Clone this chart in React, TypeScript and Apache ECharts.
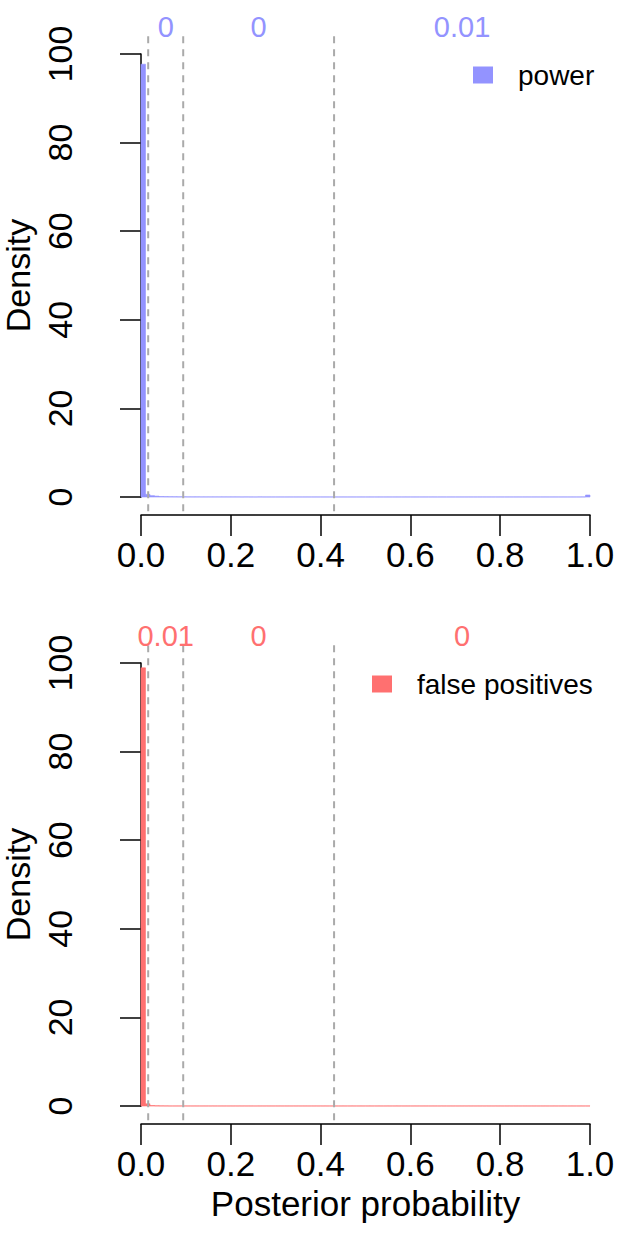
import React, { useEffect, useRef } from "react";
import * as echarts from "echarts";

// Histogram densities, 100 bins of width 0.01 over [0, 1]
const powerDensity: number[] = [
  97.7, 0.6, 0.3, 0.2, 0.1, 0.08, 0.06, 0.05, 0.04, 0.04,
  0.03, 0.03, 0.03, 0.02, 0.02, 0.02, 0.02, 0.02, 0.02, 0.02,
  0.02, 0.02, 0.01, 0.02, 0.01, 0.01, 0.02, 0.01, 0.01, 0.01,
  0.01, 0.01, 0.01, 0.01, 0.01, 0.01, 0.01, 0.01, 0.01, 0.01,
  0.01, 0.01, 0.01, 0.01, 0.01, 0.01, 0.01, 0.01, 0.01, 0.01,
  0.01, 0.01, 0.01, 0.01, 0.01, 0.01, 0.01, 0.01, 0.01, 0.01,
  0.01, 0.01, 0.01, 0.01, 0.01, 0.01, 0.01, 0.01, 0.01, 0.01,
  0.01, 0.01, 0.01, 0.01, 0.01, 0.01, 0.01, 0.01, 0.01, 0.01,
  0.01, 0.01, 0.01, 0.01, 0.01, 0.01, 0.01, 0.01, 0.01, 0.01,
  0.01, 0.01, 0.01, 0.01, 0.01, 0.01, 0.01, 0.01, 0.02, 0.45,
];
const fpDensity: number[] = [
  98.9, 0.5, 0.1, 0.05, 0.03, 0.02, 0.01, 0.01, 0.01, 0.01,
  0.01, 0.01, 0.01, 0.01, 0.01, 0.01, 0.01, 0.01, 0.01, 0.01,
  0.01, 0.01, 0.01, 0.01, 0.01, 0.01, 0.01, 0.01, 0.01, 0.01,
  0.01, 0.01, 0.01, 0.01, 0.01, 0.01, 0.01, 0.01, 0.01, 0.01,
  0.01, 0.01, 0.01, 0.01, 0.01, 0.01, 0.01, 0.01, 0.01, 0.01,
  0.01, 0.01, 0.01, 0.01, 0.01, 0.01, 0.01, 0.01, 0.01, 0.01,
  0.01, 0.01, 0.01, 0.01, 0.01, 0.01, 0.01, 0.01, 0.01, 0.01,
  0.01, 0.01, 0.01, 0.01, 0.01, 0.01, 0.01, 0.01, 0.01, 0.01,
  0.01, 0.01, 0.01, 0.01, 0.01, 0.01, 0.01, 0.01, 0.01, 0.01,
  0.01, 0.01, 0.01, 0.01, 0.01, 0.01, 0.01, 0.01, 0.01, 0.01,
];
const thresholds: number[] = [0.016, 0.094, 0.43];
const powerLabels: string[] = ["0", "0", "0.01"];
const fpLabels: string[] = ["0.01", "0", "0"];
const seriesNames: string[] = ["power", "false positives"];
const xTicks = { min: 0, max: 1, interval: 0.2 };
const yTicks = { min: 0, max: 100, interval: 20 };

const BLUE = "#9393FF";
const RED = "#FF7070";
const FONT = "Liberation Sans, Arial, Helvetica, sans-serif";

function toBins(dens: number[]) {
  const n = dens.length;
  return dens.map((d, i) => [i / n, (i + 1) / n, d]);
}

export default function App() {
  const ref = useRef<HTMLDivElement>(null);
  useEffect(() => {
    if (!ref.current) return;
    const chart = echarts.init(ref.current, null, { renderer: "svg" });
    const grids = [
      { left: 141, top: 54, width: 449, height: 443, containLabel: false, outerBoundsMode: "none" },
      { left: 141, top: 663, width: 449, height: 443, containLabel: false, outerBoundsMode: "none" },
    ];
    const mkX = (gi: number, withName: boolean) => ({
      type: "value",
      gridIndex: gi,
      min: xTicks.min,
      max: xTicks.max,
      interval: xTicks.interval,
      offset: 18,
      axisLine: { show: true, onZero: false, lineStyle: { color: "#000", width: 1.5 } },
      axisTick: { show: true, length: 21, lineStyle: { color: "#000", width: 1.5 } },
      splitLine: { show: false },
      axisLabel: {
        margin: 22,
        color: "#000",
        fontSize: 35,
        fontFamily: FONT,
        formatter: (v: number) => v.toFixed(1),
      },
      name: withName ? "Posterior probability" : "",
      nameLocation: "middle",
      nameGap: 62,
      nameTextStyle: { color: "#000", fontSize: 35, fontFamily: FONT },
    });
    const mkY = (gi: number) => ({
      type: "value",
      gridIndex: gi,
      min: yTicks.min,
      max: yTicks.max,
      interval: yTicks.interval,
      offset: 17,
      axisLine: { show: true, lineStyle: { color: "#000", width: 1.5 } },
      axisTick: { show: true, length: 21, lineStyle: { color: "#000", width: 1.5 } },
      splitLine: { show: false },
      axisLabel: {
        rotate: 90,
        margin: 47,
        color: "#000",
        fontSize: 34,
        fontFamily: FONT,
      },
      name: "Density",
      nameLocation: "middle",
      nameRotate: 90,
      nameGap: 77,
      nameTextStyle: { color: "#000", fontSize: 34, fontFamily: FONT },
    });
    const mkSeries = (gi: number, name: string, dens: number[], color: string) => ({
      type: "custom",
      name,
      xAxisIndex: gi,
      yAxisIndex: gi,
      itemStyle: { color },
      encode: { x: [0, 1], y: 2 },
      data: toBins(dens),
      renderItem: (params: any, api: any) => {
        const p0 = api.coord([api.value(0), api.value(2)]);
        const p1 = api.coord([api.value(1), 0]);
        return {
          type: "rect",
          shape: { x: p0[0], y: p0[1], width: p1[0] - p0[0], height: p1[1] - p0[1] },
          style: { fill: color, stroke: color, lineWidth: 0.6 },
        };
      },
    });
    const legendCommon = {
      icon: "rect",
      itemWidth: 20,
      itemHeight: 17,
      padding: 0,
      textStyle: { color: "#000", fontSize: 28, fontFamily: FONT, padding: [0, 0, 0, 20] },
    };
    chart.setOption({
      animation: false,
      backgroundColor: "#fff",
      grid: grids,
      xAxis: [mkX(0, false), mkX(1, true)],
      yAxis: [mkY(0), mkY(1)],
      legend: [
        { ...legendCommon, data: [seriesNames[0]], left: 473, top: 61 },
        { ...legendCommon, data: [seriesNames[1]], left: 372, top: 670 },
      ],
      series: [
        mkSeries(0, seriesNames[0], powerDensity, BLUE),
        mkSeries(1, seriesNames[1], fpDensity, RED),
      ],
    });

    const graphics: any[] = [];
    const panels = [
      { gi: 0, labels: powerLabels, color: BLUE },
      { gi: 1, labels: fpLabels, color: RED },
    ];
    panels.forEach(({ gi, labels, color }) => {
      thresholds.forEach((t) => {
        const top = chart.convertToPixel({ gridIndex: gi } as any, [t, 104]) as number[];
        const bot = chart.convertToPixel({ gridIndex: gi } as any, [t, -4]) as number[];
        graphics.push({
          type: "line",
          shape: { x1: top[0], y1: top[1], x2: bot[0], y2: bot[1] },
          style: { stroke: "#AAAAAA", lineWidth: 2, lineDash: [7, 6] },
          z: 10,
        });
      });
      const bounds = [...thresholds, xTicks.max];
      labels.forEach((lab, i) => {
        const mid = (bounds[i] + bounds[i + 1]) / 2;
        const p = chart.convertToPixel({ gridIndex: gi } as any, [mid, 106.2]) as number[];
        graphics.push({
          type: "text",
          x: p[0],
          y: p[1],
          style: {
            text: lab,
            fill: color,
            fontSize: 29,
            fontFamily: FONT,
            textAlign: "center",
            textVerticalAlign: "middle",
          },
          z: 10,
        });
      });
    });
    chart.setOption({ graphic: graphics });
    return () => chart.dispose();
  }, []);
  return (
    <div
      ref={ref}
      style={{ position: "fixed", left: 0, top: 0, width: 617, height: 1249, background: "#fff" }}
    />
  );
}
